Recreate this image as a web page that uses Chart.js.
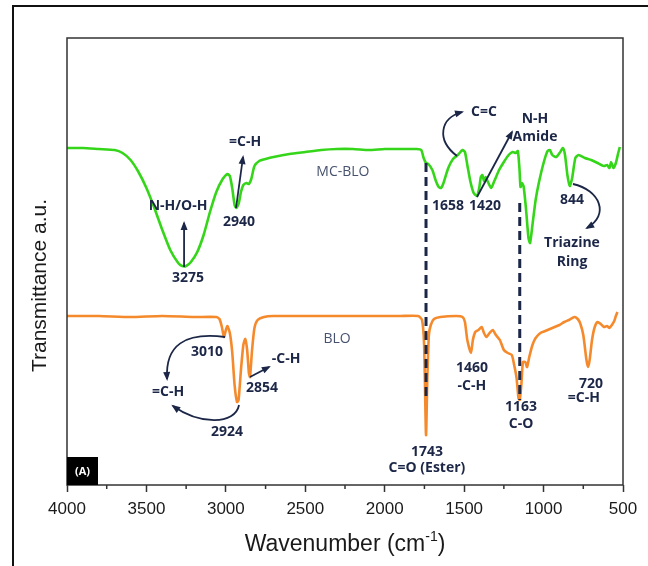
<!DOCTYPE html>
<html>
<head>
<meta charset="utf-8">
<script src="https://cdn.jsdelivr.net/npm/chart.js@4"></script>
<style>
  html, body { margin: 0; padding: 0; background: #fff; }
  #wrap { width: 648px; height: 566px; }
</style>
</head>
<body>
<div id="wrap"><canvas id="ftir" width="648" height="566"></canvas></div>
<script>
// ---------------------------------------------------------------------------
// FTIR spectra. Wavenumber in cm-1, transmittance in a.u.
// ---------------------------------------------------------------------------

const mcbloWavenumber = [
  4000, 3900, 3800, 3700, 3650, 3600, 3550, 3500, 3450, 3400,
  3350, 3300, 3275, 3250, 3220, 3180, 3140, 3100, 3060, 3020,
  2990, 2975, 2960, 2945, 2935, 2920, 2905, 2890, 2870, 2855,
  2840, 2820, 2790, 2750, 2700, 2600, 2500, 2400, 2300, 2200,
  2100, 2000, 1900, 1800, 1770, 1755, 1740, 1725, 1700, 1680,
  1660, 1645, 1630, 1600, 1570, 1540, 1510, 1495, 1480, 1460,
  1440, 1420, 1405, 1395, 1385, 1375, 1365, 1350, 1330, 1310,
  1280, 1250, 1220, 1195, 1175, 1162, 1152, 1145, 1135, 1125,
  1110, 1095, 1085, 1070, 1050, 1030, 1000, 975, 960, 945,
  920, 895, 878, 865, 850, 835, 820, 800, 780, 740,
  700, 660, 620, 600, 585, 575, 560, 545, 530, 520,
];
const mcbloT = [
  337, 337, 336, 335, 332, 325, 313, 297, 277, 255,
  235, 222, 219, 219, 223, 233, 250, 273, 293, 306,
  311, 309, 297, 280, 277, 281, 293, 300, 302, 301,
  306, 319, 324, 326, 328, 331, 333, 335, 336, 336,
  335, 336, 336, 336, 335, 327, 322, 321, 315, 305,
  298, 297, 302, 317, 326, 330, 335, 333, 320, 303,
  292, 289, 297, 308, 310, 304, 308, 303, 297, 304,
  315, 323, 330, 333, 332, 334, 317, 298, 302, 298,
  275, 247, 242, 260, 285, 302, 322, 334, 335, 330,
  328, 333, 337, 330, 310, 299, 307, 327, 330, 327,
  325, 322, 319, 320, 317, 323, 317, 322, 332, 338,
];

const bloWavenumber = [
  4000, 3800, 3600, 3400, 3200, 3060, 3040, 3025, 3012, 3000,
  2990, 2975, 2960, 2945, 2930, 2920, 2905, 2890, 2878, 2866,
  2855, 2848, 2835, 2820, 2800, 2760, 2700, 2500, 2300, 2100,
  1900, 1790, 1765, 1752, 1740, 1732, 1722, 1710, 1690, 1650,
  1550, 1510, 1495, 1480, 1457, 1445, 1430, 1410, 1390, 1375,
  1360, 1340, 1320, 1300, 1275, 1250, 1225, 1200, 1185, 1170,
  1158, 1150, 1140, 1130, 1115, 1104, 1090, 1070, 1050, 1020,
  990, 960, 930, 900, 870, 840, 805, 785, 770, 750,
  730, 720, 710, 695, 678, 660, 640, 620, 600, 585,
  570, 555, 545, 535,
];
const bloT = [
  169, 169, 168, 169, 168, 168, 166, 158, 148, 155,
  159, 152, 133, 100, 83, 85, 115, 140, 146, 135,
  112, 108, 135, 157, 165, 168, 169, 169, 169, 169,
  169, 169, 165, 140, 50, 105, 150, 160, 166, 168,
  169, 168, 163, 145, 132, 145, 153, 155, 158, 152,
  148, 152, 155, 150, 145, 135, 132, 130, 120, 107,
  87, 85, 100, 123, 123, 118, 128, 140, 147, 152,
  154, 156, 158, 160, 163, 165, 168, 166, 162, 150,
  125, 118, 125, 145, 158, 163, 161, 158, 159, 157,
  160, 164, 169, 173,
];

// dashed guides linking the two spectra: [wavenumber, from T, to T]
const guideLines = [
  [1740, 322, 88],
  [1150, 282, 85],
];

// peak labels: [text, wavenumber, T]
const peakLabels = [
  ["=C-H", 2879, 343], ["N-H/O-H", 3301, 279], ["2940", 2917, 263], ["3275", 3238, 207],
  ["C=C", 1375, 373], ["N-H", 1054, 366], ["Amide", 1054, 348],
  ["1658", 1602, 279], ["1420", 1369, 279],
  ["844", 821, 285], ["Triazine", 821, 242], ["Ring", 821, 223],
  ["3010", 3119, 133], ["=C-H", 3364, 93], ["2924", 2993, 53],
  ["-C-H", 2621, 126], ["2854", 2772, 97],
  ["1460", 1451, 117], ["-C-H", 1451, 99],
  ["1163", 1142, 78], ["C-O", 1142, 61],
  ["720", 701, 101], ["=C-H", 746, 87],
  ["1743", 1734, 33], ["C=O (Ester)", 1734, 17],
];
const seriesLabels = [["MC-BLO", 2263, 313], ["BLO", 2300, 146]];

// arrows as [wavenumber, T] points: 2 points = straight, 4 = curved
const arrows = [
  [[3263, 218], [3263, 262]],
  [[2936, 277], [2892, 328]],
  [[1419, 288], [1199, 353]],
  [[2848, 108], [2728, 118]],
  [[1545, 329], [1677, 345], [1652, 367], [1513, 373]],
  [[815, 301], [645, 295], [582, 270], [727, 257]],
  [[3005, 148], [3257, 153], [3383, 140], [3370, 106]],
  [[2917, 80], [2942, 60], [3163, 60], [3333, 79]],
];

const NAVY = "#1c2747";
const GREEN = "#35d61a";
const ORANGE = "#f58a2c";

function zip(xs, ys) {
  return xs.map((x, i) => ({ x, y: ys[i] }));
}

// ---------------------------------------------------------------------------
// Decorations: outer frame, plot box, minor ticks, titles, notes
// ---------------------------------------------------------------------------

function drawArrow(ctx, pts) {
  ctx.beginPath();
  ctx.moveTo(pts[0][0], pts[0][1]);
  if (pts.length === 4) {
    ctx.bezierCurveTo(pts[1][0], pts[1][1], pts[2][0], pts[2][1], pts[3][0], pts[3][1]);
  } else {
    ctx.lineTo(pts[1][0], pts[1][1]);
  }
  ctx.stroke();
  const end = pts[pts.length - 1];
  const prev = pts[pts.length - 2];
  const a = Math.atan2(end[1] - prev[1], end[0] - prev[0]);
  const len = 7, half = 3.5;
  ctx.beginPath();
  ctx.moveTo(end[0] + Math.cos(a) * 2, end[1] + Math.sin(a) * 2);
  ctx.lineTo(end[0] - Math.cos(a) * len - Math.sin(a) * half, end[1] - Math.sin(a) * len + Math.cos(a) * half);
  ctx.lineTo(end[0] - Math.cos(a) * len + Math.sin(a) * half, end[1] - Math.sin(a) * len - Math.cos(a) * half);
  ctx.closePath();
  ctx.fill();
}

const decor = {
  id: "decor",
  beforeDraw(chart) {
    const ctx = chart.ctx;
    ctx.save();
    ctx.fillStyle = "#fff";
    ctx.fillRect(0, 0, chart.width, chart.height);
    ctx.strokeStyle = "#111";
    ctx.lineWidth = 2;
    ctx.beginPath();
    ctx.moveTo(13, chart.height + 2);
    ctx.lineTo(13, 6);
    ctx.lineTo(chart.width + 2, 6);
    ctx.stroke();
    ctx.restore();
  },
  afterDatasetsDraw(chart) {
    const ctx = chart.ctx;
    const xs = chart.scales.x, ys = chart.scales.y;
    const P = ([w, t]) => [xs.getPixelForValue(w), ys.getPixelForValue(t)];
    const area = chart.chartArea;
    ctx.save();

    // dashed guides
    ctx.strokeStyle = NAVY;
    ctx.lineWidth = 3;
    ctx.setLineDash([9, 5]);
    guideLines.forEach(([w, t0, t1]) => {
      ctx.beginPath();
      ctx.moveTo(xs.getPixelForValue(w), ys.getPixelForValue(t0));
      ctx.lineTo(xs.getPixelForValue(w), ys.getPixelForValue(t1));
      ctx.stroke();
    });
    ctx.setLineDash([]);

    // plot box
    ctx.strokeStyle = "#333";
    ctx.lineWidth = 1.5;
    ctx.strokeRect(area.left, area.top, area.right - area.left, area.bottom - area.top);

    // minor ticks
    ctx.lineWidth = 1.5;
    for (let w = 3750; w > 500; w -= 500) {
      const x = xs.getPixelForValue(w);
      ctx.beginPath();
      ctx.moveTo(x, area.bottom);
      ctx.lineTo(x, area.bottom + 4);
      ctx.stroke();
    }

    // arrows
    ctx.strokeStyle = NAVY;
    ctx.fillStyle = NAVY;
    ctx.lineWidth = 1.8;
    arrows.forEach(a => drawArrow(ctx, a.map(P)));

    // peak labels
    ctx.textAlign = "center";
    ctx.textBaseline = "middle";
    ctx.font = '700 14px "Open Sans"';
    peakLabels.forEach(([txt, w, t]) => {
      const [x, y] = P([w, t]);
      ctx.fillText(txt, x, y);
    });
    ctx.fillStyle = "#46526e";
    ctx.font = '400 14px "Open Sans"';
    seriesLabels.forEach(([txt, w, t]) => {
      const [x, y] = P([w, t]);
      ctx.fillText(txt, x, y);
    });

    // (A) panel tag
    ctx.fillStyle = "#000";
    ctx.fillRect(area.left, area.bottom - 28, 31, 28);
    ctx.fillStyle = "#fff";
    ctx.font = '700 11px "Open Sans"';
    ctx.fillText("(A)", area.left + 15.5, area.bottom - 13);

    // axis titles
    ctx.fillStyle = "#1a1a1a";
    ctx.font = '23px "Liberation Sans"';
    const main = "Wavenumber (cm";
    const sup = "-1";
    const close = ")";
    const wMain = ctx.measureText(main).width;
    const wClose = ctx.measureText(close).width;
    ctx.font = '14px "Liberation Sans"';
    const wSup = ctx.measureText(sup).width;
    const cx = (area.left + area.right) / 2;
    let x0 = cx - (wMain + wSup + wClose) / 2;
    const base = 551;
    ctx.textAlign = "left";
    ctx.textBaseline = "alphabetic";
    ctx.font = '23px "Liberation Sans"';
    ctx.fillText(main, x0, base);
    ctx.font = '14px "Liberation Sans"';
    ctx.fillText(sup, x0 + wMain, base - 10);
    ctx.font = '23px "Liberation Sans"';
    ctx.fillText(close, x0 + wMain + wSup, base);

    ctx.translate(40, (area.top + area.bottom) / 2 + 24);
    ctx.rotate(-Math.PI / 2);
    ctx.textAlign = "center";
    ctx.textBaseline = "middle";
    ctx.font = '21px "Liberation Sans"';
    ctx.fillText("Transmittance a.u.", 0, 0);

    ctx.restore();
  },
};

// ---------------------------------------------------------------------------
// Chart
// ---------------------------------------------------------------------------

new Chart(document.getElementById("ftir"), {
  type: "scatter",
  data: {
    datasets: [
      { label: "MC-BLO", data: zip(mcbloWavenumber, mcbloT), borderColor: GREEN },
      { label: "BLO", data: zip(bloWavenumber, bloT), borderColor: ORANGE },
    ],
  },
  options: {
    responsive: false,
    animation: false,
    showLine: true,
    elements: {
      point: { radius: 0 },
      line: { borderWidth: 2.6, tension: 0.2, fill: false },
    },
    layout: { padding: { left: 67, top: 38, right: 25, bottom: 0 } },
    plugins: { legend: { display: false }, tooltip: { enabled: false } },
    scales: {
      x: {
        type: "linear",
        reverse: true,
        min: 500,
        max: 4000,
        afterFit: (scale) => { scale.height = 81; },
        border: { display: false },
        grid: { drawOnChartArea: false, drawTicks: true, tickLength: 7, tickColor: "#333", tickWidth: 1.5 },
        ticks: {
          stepSize: 500,
          padding: 7,
          color: "#1a1a1a",
          font: { family: "Liberation Sans", size: 17 },
          maxRotation: 0,
          callback: (v) => String(v),
        },
      },
      y: { display: false, min: 0, max: 447 },
    },
  },
  plugins: [decor],
});
</script>
</body>
</html>
